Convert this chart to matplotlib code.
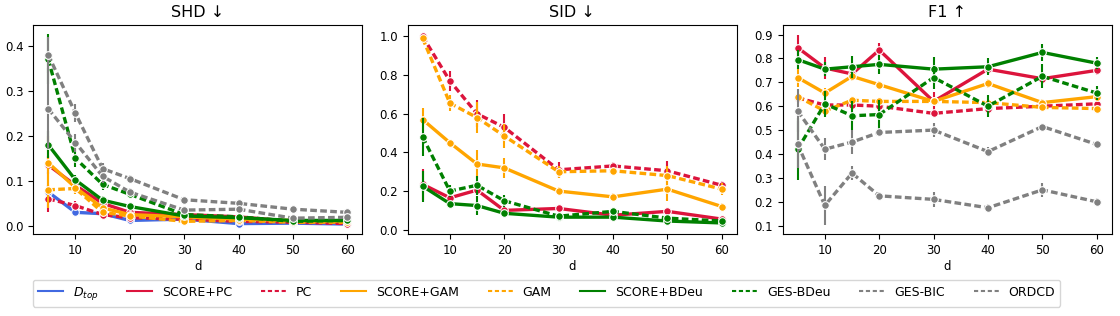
import matplotlib
matplotlib.use("Agg")
from matplotlib import pyplot as plt
from matplotlib.lines import Line2D

d = [5, 10, 15, 20, 30, 40, 50, 60]

methods = ["Dtop", "SCORE+PC", "PC", "SCORE+GAM", "GAM",
           "SCORE+BDeu", "GES-BDeu", "GES-BIC", "ORDCD"]
labels = ["$D_{top}$", "SCORE+PC", "PC", "SCORE+GAM", "GAM",
          "SCORE+BDeu", "GES-BDeu", "GES-BIC", "ORDCD"]
colors = ["royalblue", "crimson", "crimson", "orange", "orange",
          "green", "green", "grey", "grey"]
dashed = [False, False, True, False, True, False, True, True, True]

# SHD (normalised), mean and error
shd = {
    "Dtop": [0.075, 0.030, 0.027, 0.012, 0.015, 0.005, 0.006, 0.004],
    "SCORE+PC": [0.135, 0.090, 0.050, 0.030, 0.025, 0.020, 0.010, 0.008],
    "PC": [0.060, 0.045, 0.025, 0.018, 0.015, 0.010, 0.008, 0.005],
    "SCORE+GAM": [0.140, 0.085, 0.040, 0.025, 0.020, 0.015, 0.012, 0.010],
    "GAM": [0.080, 0.083, 0.030, 0.022, 0.010, 0.012, 0.008, 0.008],
    "SCORE+BDeu": [0.180, 0.102, 0.057, 0.043, 0.022, 0.018, 0.012, 0.012],
    "GES-BDeu": [0.370, 0.150, 0.092, 0.070, 0.025, 0.020, 0.010, 0.012],
    "GES-BIC": [0.380, 0.250, 0.127, 0.105, 0.058, 0.050, 0.037, 0.030],
    "ORDCD": [0.260, 0.185, 0.110, 0.075, 0.035, 0.037, 0.017, 0.019],
}
shd_err = {
    "Dtop": [0.010, 0.005, 0.005, 0.004, 0.003, 0.002, 0.002, 0.001],
    "SCORE+PC": [0.020, 0.010, 0.006, 0.004, 0.003, 0.002, 0.002, 0.001],
    "PC": [0.030, 0.010, 0.005, 0.004, 0.003, 0.002, 0.002, 0.002],
    "SCORE+GAM": [0.060, 0.015, 0.010, 0.005, 0.003, 0.003, 0.002, 0.002],
    "GAM": [0.040, 0.010, 0.010, 0.005, 0.003, 0.003, 0.002, 0.002],
    "SCORE+BDeu": [0.030, 0.012, 0.010, 0.008, 0.004, 0.003, 0.002, 0.002],
    "GES-BDeu": [0.055, 0.020, 0.012, 0.008, 0.004, 0.003, 0.002, 0.002],
    "GES-BIC": [0.040, 0.020, 0.012, 0.008, 0.004, 0.003, 0.002, 0.002],
    "ORDCD": [0.090, 0.020, 0.015, 0.008, 0.004, 0.004, 0.003, 0.002],
}

# SID (normalised)
sid = {
    "SCORE+PC": [0.235, 0.165, 0.205, 0.100, 0.110, 0.075, 0.095, 0.055],
    "PC": [1.000, 0.770, 0.600, 0.530, 0.310, 0.330, 0.305, 0.230],
    "SCORE+GAM": [0.570, 0.450, 0.340, 0.320, 0.200, 0.170, 0.210, 0.120],
    "GAM": [0.990, 0.655, 0.580, 0.485, 0.300, 0.305, 0.280, 0.210],
    "SCORE+BDeu": [0.225, 0.135, 0.125, 0.085, 0.065, 0.065, 0.045, 0.035],
    "GES-BDeu": [0.480, 0.200, 0.230, 0.150, 0.070, 0.095, 0.060, 0.045],
}
sid_err = {
    "SCORE+PC": [0.080, 0.015, 0.020, 0.010, 0.010, 0.010, 0.015, 0.008],
    "PC": [0.010, 0.050, 0.070, 0.070, 0.040, 0.020, 0.050, 0.020],
    "SCORE+GAM": [0.060, 0.015, 0.070, 0.050, 0.020, 0.020, 0.060, 0.020],
    "GAM": [0.010, 0.040, 0.080, 0.060, 0.030, 0.020, 0.050, 0.030],
    "SCORE+BDeu": [0.080, 0.010, 0.050, 0.015, 0.010, 0.010, 0.010, 0.008],
    "GES-BDeu": [0.100, 0.030, 0.050, 0.030, 0.015, 0.015, 0.015, 0.010],
}

# F1
f1 = {
    "SCORE+PC": [0.845, 0.760, 0.735, 0.835, 0.620, 0.755, 0.715, 0.750],
    "PC": [0.635, 0.605, 0.605, 0.600, 0.570, 0.590, 0.600, 0.610],
    "SCORE+GAM": [0.720, 0.655, 0.725, 0.690, 0.620, 0.695, 0.615, 0.640],
    "GAM": [0.640, 0.580, 0.625, 0.620, 0.620, 0.615, 0.595, 0.590],
    "SCORE+BDeu": [0.795, 0.755, 0.765, 0.775, 0.755, 0.765, 0.825, 0.780],
    "GES-BDeu": [0.420, 0.610, 0.560, 0.565, 0.720, 0.600, 0.725, 0.655],
    "GES-BIC": [0.440, 0.185, 0.320, 0.225, 0.210, 0.175, 0.250, 0.200],
    "ORDCD": [0.580, 0.420, 0.450, 0.490, 0.500, 0.410, 0.515, 0.440],
}
f1_err = {
    "SCORE+PC": [0.055, 0.045, 0.020, 0.030, 0.040, 0.020, 0.020, 0.020],
    "PC": [0.015, 0.020, 0.020, 0.020, 0.015, 0.010, 0.015, 0.015],
    "SCORE+GAM": [0.040, 0.020, 0.020, 0.015, 0.010, 0.020, 0.015, 0.010],
    "GAM": [0.010, 0.015, 0.010, 0.010, 0.010, 0.010, 0.015, 0.015],
    "SCORE+BDeu": [0.040, 0.030, 0.045, 0.040, 0.050, 0.035, 0.035, 0.025],
    "GES-BDeu": [0.130, 0.055, 0.060, 0.060, 0.050, 0.045, 0.050, 0.030],
    "GES-BIC": [0.100, 0.080, 0.030, 0.015, 0.030, 0.015, 0.030, 0.015],
    "ORDCD": [0.090, 0.045, 0.050, 0.015, 0.030, 0.020, 0.010, 0.010],
}

panels = [("SHD ↓", shd, shd_err, [0.0, 0.1, 0.2, 0.3, 0.4]),
          ("SID ↓", sid, sid_err, [0.0, 0.2, 0.4, 0.6, 0.8, 1.0]),
          ("F1 ↑", f1, f1_err, [0.1, 0.2, 0.3, 0.4, 0.5, 0.6, 0.7, 0.8, 0.9])]

fig = plt.figure(figsize=(11.2, 3.16), dpi=100)
lefts = [33.3, 407.7, 782.7]
for (title, vals, errs, yt), left in zip(panels, lefts):
    ax = fig.add_axes([left / 1120, (316 - 234) / 316, 329 / 1120, 209 / 316])
    for m, c, ds in zip(methods, colors, dashed):
        if m not in vals:
            continue
        y = vals[m]
        e = errs[m]
        ax.vlines(d, [a - b for a, b in zip(y, e)], [a + b for a, b in zip(y, e)],
                  color=c, lw=1.5)
        line, = ax.plot(d, y, color=c, lw=2.4, marker="o", ms=5.5,
                        mec="white", mew=0.8)
        if ds:
            line.set_dashes((2, 1))
    ax.set_title(title, fontsize=11.5)
    ax.set_xlabel("d", fontsize=8.5, labelpad=2)
    ax.set_xticks([10, 20, 30, 40, 50, 60])
    ax.set_yticks(yt)
    ax.tick_params(labelsize=8.5)

handles = []
for lab, c, ds in zip(labels, colors, dashed):
    h = Line2D([], [], color=c, lw=1.5)
    if ds:
        h.set_dashes((2, 1.3))
    handles.append(h)
fig.legend(handles, labels, loc="lower center", ncol=9, fontsize=9,
           bbox_to_anchor=(0.488, 0.009), columnspacing=2.3)

fig.savefig("out.png", format="png")
